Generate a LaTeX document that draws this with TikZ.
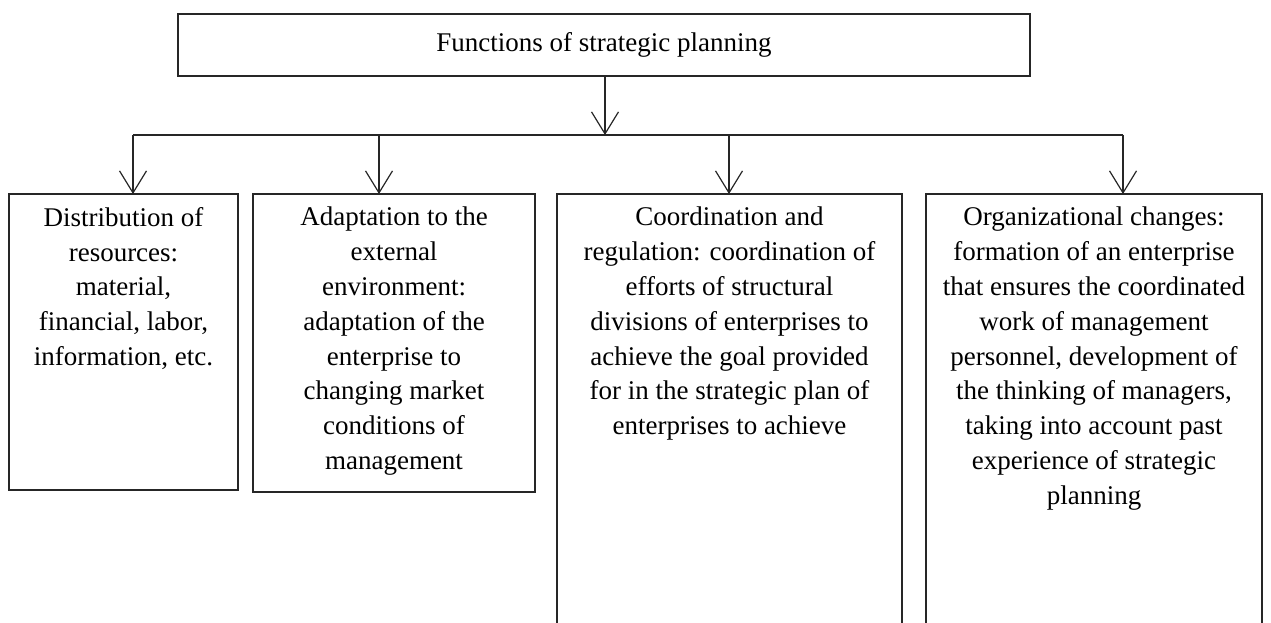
\documentclass[tikz,border=0pt]{standalone}
\usepackage{fontspec}
\setmainfont{Liberation Serif}
\usetikzlibrary{arrows.meta,positioning}

\begin{document}
\begin{tikzpicture}[
    x=1pt, y={(0pt,-1pt)},
    fbox/.style={
        rectangle,
        draw=black!85,
        line width=1.2pt,
        inner sep=0pt,
        outer sep=0pt,
        anchor=north west
    },
    ftext/.style={
        align=center,
        inner sep=0pt,
        anchor=north,
        font=\fontsize{27}{34.8}\selectfont
    },
    vtip/.style={
        draw=black!85,
        line width=1.2pt,
        -{Straight Barb[length=22pt,width=27pt]}
    },
    node distance=13pt
]
    \useasboundingbox (0,0) rectangle (1271,623);
    \clip (0,0) rectangle (1271,623);

    % Top box with the title
    \node[fbox, anchor=center, minimum width=852pt, minimum height=62pt,
        font=\fontsize{27}{34.8}\selectfont, text height=20pt, text depth=6pt]
        (functions) at (604,45) {Functions of strategic planning};

    % The four function boxes, side by side
    \node[fbox, minimum width=229pt, minimum height=296pt] (distribution) at (9,194) {};
    \node[fbox, minimum width=282pt, minimum height=298pt,
        right=15pt of distribution.north east, anchor=north west] (adaptation) {};
    \node[fbox, minimum width=345pt, minimum height=460pt,
        right=22pt of adaptation.north east, anchor=north west] (coordination) {};
    \node[fbox, minimum width=336pt, minimum height=460pt,
        right=24pt of coordination.north east, anchor=north west] (organization) {};

    % Texts of the four boxes
    \node[ftext, below=of distribution.north] (distributiontext)
        {Distribution of\\resources:\\material,\\financial, labor,\\information, etc.};
    \node[ftext, below=of adaptation.north] (adaptationtext)
        {Adaptation to the\\external\\environment:\\adaptation of the\\enterprise to\\changing market\\conditions of\\management};
    \node[ftext, below=of coordination.north] (coordinationtext)
        {Coordination and\\regulation: coordination of\\efforts of structural\\divisions of enterprises to\\achieve the goal provided\\for in the strategic plan of\\enterprises to achieve};
    \node[ftext, below=of organization.north] (organizationtext)
        {Organizational changes:\\formation of an enterprise\\that ensures the coordinated\\work of management\\personnel, development of\\the thinking of managers,\\taking into account past\\experience of strategic\\planning};

    % Bus line and its drop points
    \coordinate (hub) at (605,135);
    \coordinate (drop1) at (133,135);
    \coordinate (drop2) at (379,135);
    \coordinate (drop3) at (729,135);
    \coordinate (drop4) at (1123,135);

    \draw[vtip] (functions.south -| hub) -- (hub);
    \draw[draw=black!85, line width=1.2pt] (drop1) -- (drop4);
    \draw[vtip] (drop1) -- (drop1 |- distribution.north);
    \draw[vtip] (drop2) -- (drop2 |- adaptation.north);
    \draw[vtip] (drop3) -- (drop3 |- coordination.north);
    \draw[vtip] (drop4) -- (drop4 |- organization.north);

\end{tikzpicture}
\end{document}
